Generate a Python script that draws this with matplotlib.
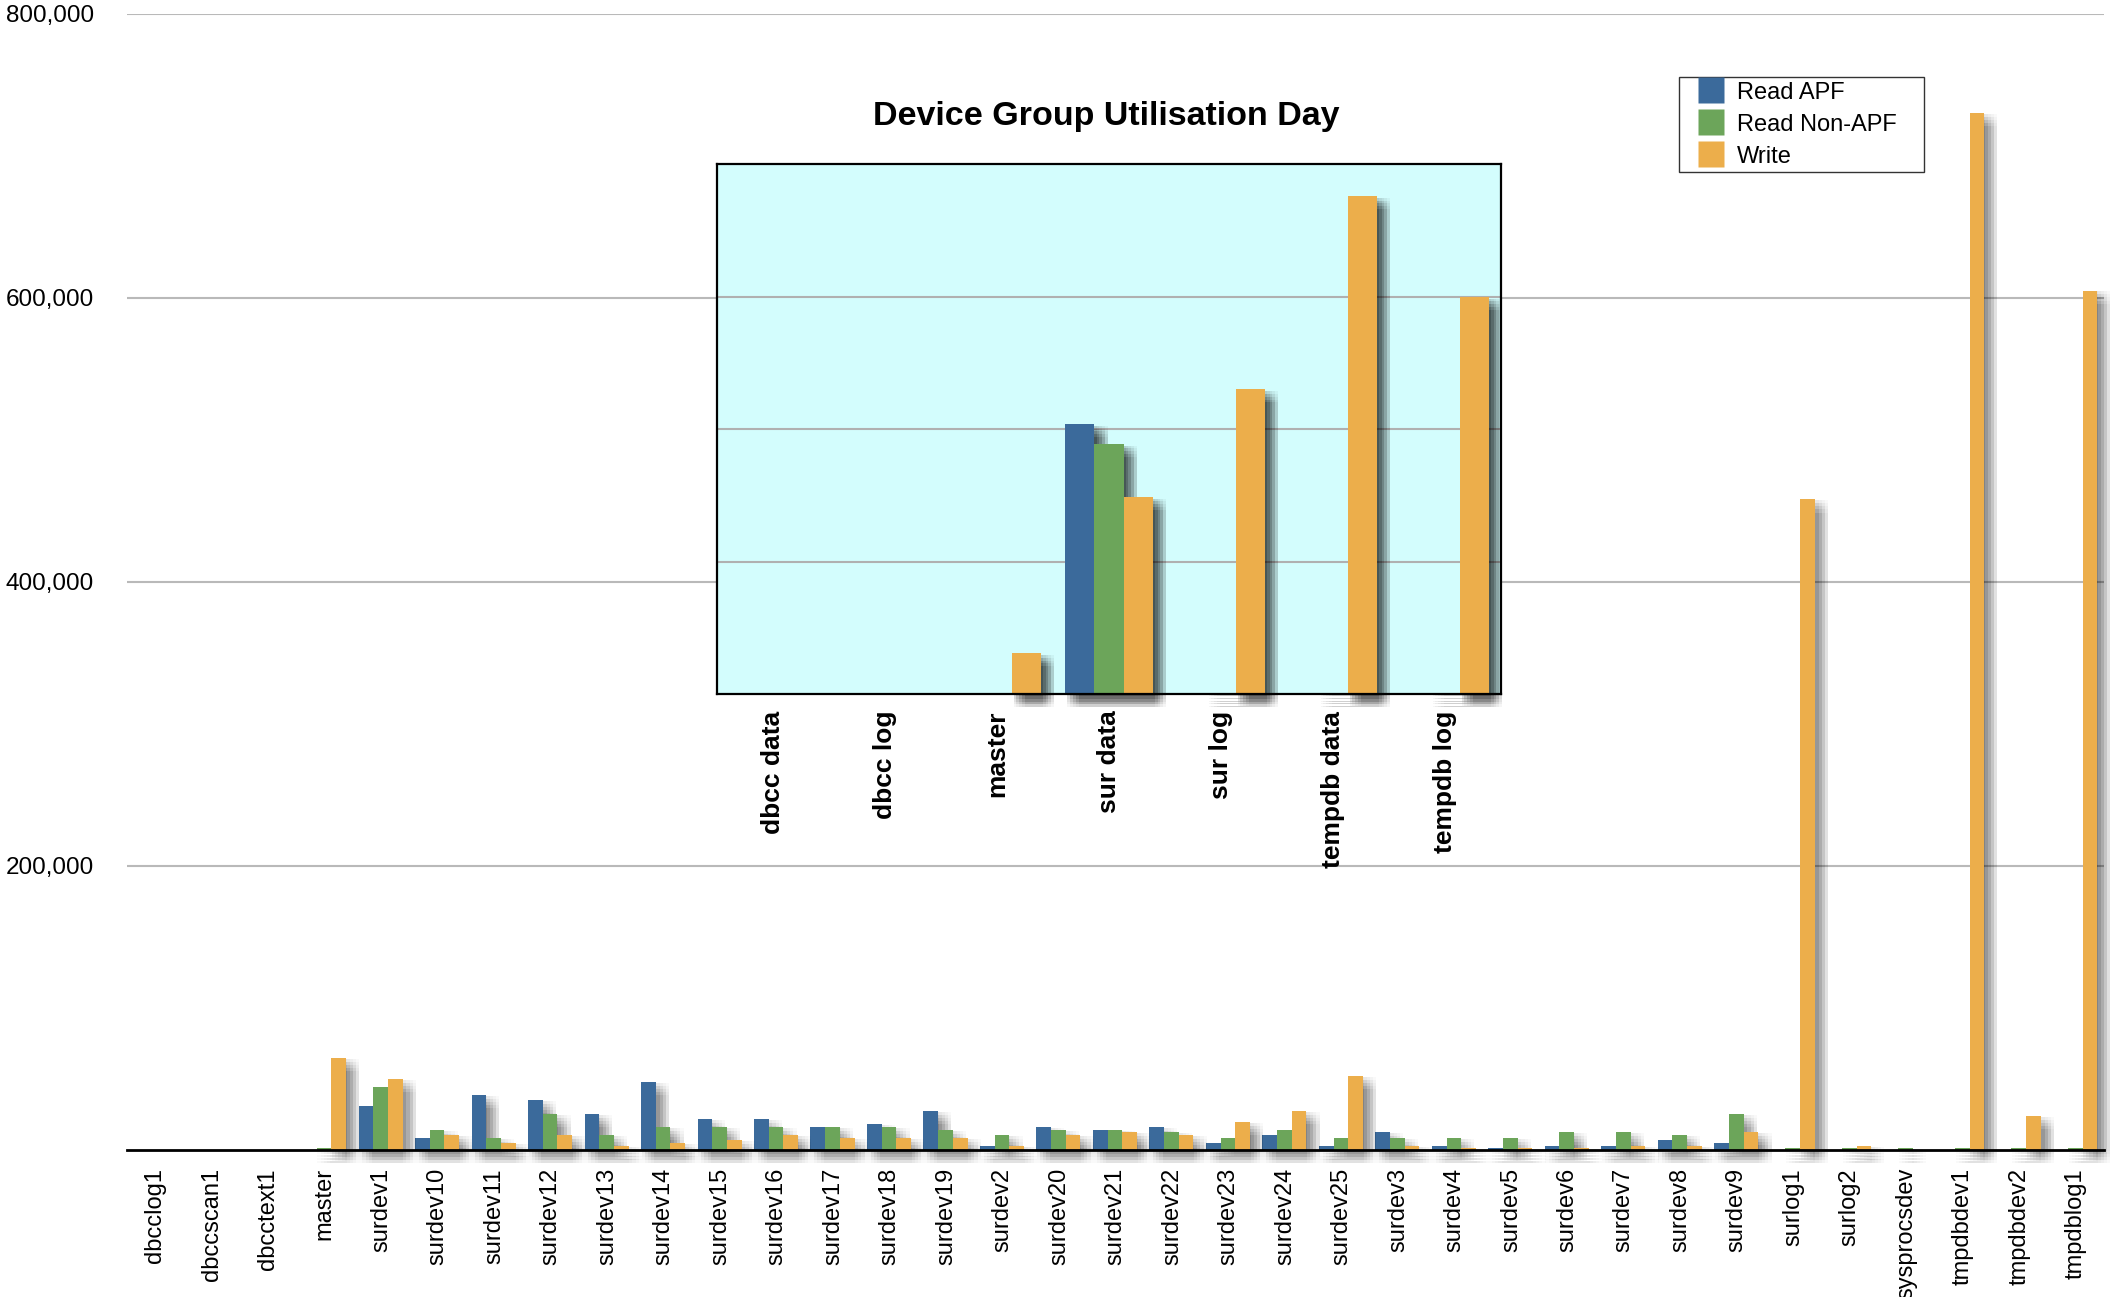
import matplotlib
matplotlib.use("Agg")
import matplotlib.pyplot as plt
import numpy as np
from matplotlib import patheffects as pe
from matplotlib.lines import Line2D

plt.rcParams['font.family'] = ['Liberation Sans', 'DejaVu Sans']

# ---------------- data ----------------
devices = ["dbcclog1", "dbccscan1", "dbcctext1", "master", "surdev1",
           "surdev10", "surdev11", "surdev12", "surdev13", "surdev14",
           "surdev15", "surdev16", "surdev17", "surdev18", "surdev19",
           "surdev2", "surdev20", "surdev21", "surdev22", "surdev23",
           "surdev24", "surdev25", "surdev3", "surdev4", "surdev5",
           "surdev6", "surdev7", "surdev8", "surdev9", "surlog1",
           "surlog2", "sysprocsdev", "tmpdbdev1", "tmpdbdev2", "tmpdblog1"]

read_apf = [0, 0, 0, 0, 31000,
            8400, 38700, 35200, 25300, 47900,
            21800, 21800, 16200, 18300, 27500,
            2800, 16200, 14100, 16200, 4900,
            10600, 2800, 12700, 2800, 1400,
            2800, 2800, 7000, 4900, 0,
            0, 0, 0, 0, 0]

read_non_apf = [0, 0, 0, 1400, 44300,
                14100, 8400, 25300, 10600, 16200,
                16200, 16200, 16200, 16200, 14100,
                10600, 14100, 14100, 12700, 8400,
                14100, 8400, 8400, 8400, 8400,
                12700, 12700, 10600, 25300, 1400,
                1400, 1400, 1400, 1400, 1400]

write = [0, 0, 0, 64800, 50000,
         10600, 4900, 10600, 2800, 4900,
         7000, 10600, 8400, 8400, 8400,
         2800, 10600, 12700, 10600, 19700,
         27500, 52100, 2800, 1400, 1400,
         1400, 2800, 2800, 12700, 458000,
         2800, 0, 730000, 23900, 605000]

groups = ["dbcc data", "dbcc log", "master", "sur data", "sur log",
          "tempdb data", "tempdb log"]
g_read_apf = [0, 0, 0, 408000, 0, 0, 0]
g_read_non_apf = [0, 0, 0, 378000, 1500, 1500, 1500]
g_write = [0, 0, 62000, 298000, 460000, 752000, 600000]

series_names = ["Read APF", "Read Non-APF", "Write"]
colors = ["#3b6a9b", "#6ca55a", "#ecae4b"]

main_ticks = [200000, 400000, 600000, 800000]
main_tick_labels = ["200,000", "400,000", "600,000", "800,000"]
inset_grid = [200000, 400000, 600000]

title = "Device Group Utilisation Day"

# ---------------- figure ----------------
W, H = 2111, 1297
fig = plt.figure(figsize=(W / 100, H / 100), dpi=100)


def soft_shadow(center, spread, n, alpha):
    """Approximate a blurred drop shadow by stacking offset copies."""
    eff = []
    offs = np.linspace(-spread, spread, n)
    for dx in offs:
        for dy in offs:
            eff.append(pe.SimplePatchShadow(offset=(center + dx, -center + dy),
                                            shadow_rgbFace="black",
                                            alpha=alpha))
    eff.append(pe.Normal())
    return eff


# main axes
ax = fig.add_axes([127 / W, 1 - 1150 / H, (2104 - 127) / W, (1150 - 13.5) / H])
x = np.arange(len(devices))
bw = 0.26
series = [read_apf, read_non_apf, write]
main_fx = soft_shadow(5.0, 4.5, 5, 0.022)
for k, (vals, c) in enumerate(zip(series, colors)):
    bars = ax.bar(x + (k - 1) * bw - 0.01, vals, width=bw, color=c,
                  edgecolor="none", zorder=3, clip_on=False)
    for b in bars:
        b.set_path_effects(main_fx)

ax.set_xlim(-0.5, len(devices) - 0.5)
ax.set_ylim(0, 800000)
ax.set_yticks(main_ticks)
ax.set_yticklabels(main_tick_labels, fontsize=17.5)
ax.set_xticks(x)
ax.set_xticklabels(devices, rotation=90, fontsize=17, va="top", ha="center")
ax.tick_params(axis="y", length=0, pad=24)
ax.tick_params(axis="x", length=0, pad=13)
ax.yaxis.grid(True, color="#b9b9b9", linewidth=1.5, zorder=0)
ax.set_axisbelow(True)
for s in ["left", "right", "top"]:
    ax.spines[s].set_visible(False)
ax.spines["bottom"].set_color("black")
ax.spines["bottom"].set_linewidth(2)
ax.spines["bottom"].set_zorder(6)

# inset axes
ax2 = fig.add_axes([717 / W, 1 - 694 / H, (1501 - 717) / W, (694 - 164) / H],
                   zorder=5)
ax2.set_facecolor("#d3fdfd")
xg = np.arange(len(groups))
gseries = [g_read_apf, g_read_non_apf, g_write]
inset_fx = soft_shadow(5.5, 4.0, 5, 0.04)
for k, (vals, c) in enumerate(zip(gseries, colors)):
    bars = ax2.bar(xg + (k - 1) * 0.26, vals, width=0.26, color=c,
                   edgecolor="none", zorder=3, clip_on=False)
    for b in bars:
        b.set_path_effects(inset_fx)
ax2.set_xlim(-0.5, len(groups) - 0.5)
ax2.set_ylim(0, 800000)
ax2.set_yticks(inset_grid)
ax2.set_yticklabels([])
ax2.yaxis.grid(True, color="#b0b0b0", linewidth=1.5, zorder=0)
ax2.set_axisbelow(True)
ax2.set_xticks(xg)
ax2.set_xticklabels(groups, rotation=90, fontsize=19, fontweight="bold",
                    va="top", ha="center")
ax2.tick_params(axis="both", length=0)
ax2.tick_params(axis="x", pad=12)
for s in ax2.spines.values():
    s.set_color("black")
    s.set_linewidth(1.6)
    s.set_zorder(6)

fig.text(1106 / W, 1 - 117 / H, title, ha="center", va="center",
         fontsize=24.5, fontweight="bold")

# legend
handles = [Line2D([], [], linestyle="none", marker="s", markersize=18.5,
                  markerfacecolor=c, markeredgecolor="none") for c in colors]
leg = fig.legend(handles, series_names, loc="upper left",
                 bbox_to_anchor=(1679 / W, 1 - 77 / H - 0.01, 245 / W, 0.01),
                 mode="expand", fontsize=17, frameon=True, fancybox=False,
                 borderpad=0.2, handlelength=2.3, handletextpad=-0.05,
                 labelspacing=0.42, borderaxespad=0)
leg.get_frame().set_edgecolor("black")
leg.get_frame().set_linewidth(1.0)
leg.set_zorder(10)

fig.savefig("out.png", dpi=100)
